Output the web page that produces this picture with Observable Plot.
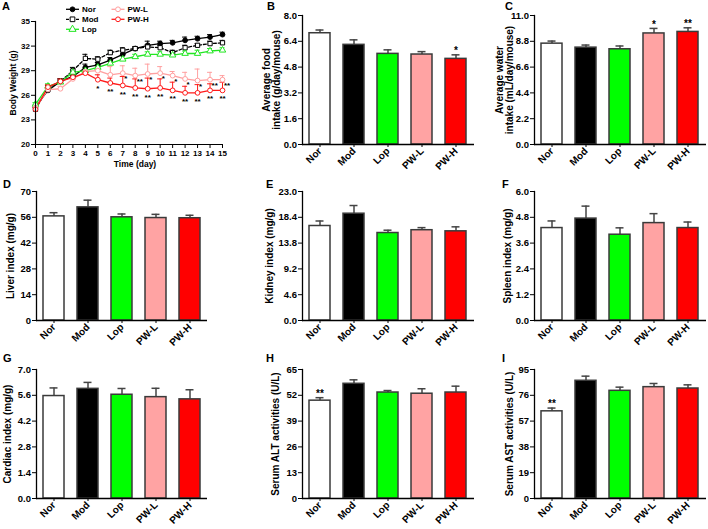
<!DOCTYPE html>
<html><head><meta charset="utf-8">
<script src="https://cdn.jsdelivr.net/npm/d3@7"></script>
<script src="https://cdn.jsdelivr.net/npm/@observablehq/plot@0.6"></script>
<style>
body{margin:0;background:#fff;}
#fig{position:relative;width:708px;height:529px;font-family:"Liberation Sans",Arial,sans-serif;font-weight:bold;}
#fig svg{position:absolute;overflow:visible;}
</style></head><body><div id="fig"></div>
<script>
// ---------- data ----------
const groups = ["Nor", "Mod", "Lop", "PW-L", "PW-H"];
const days = [0, 1, 2, 3, 4, 5, 6, 7, 8, 9, 10, 11, 12, 13, 14, 15];

const norBW = [24.6, 26.6, 27.7, 28.3, 29.4, 29.7, 30.3, 31.0, 31.7, 32.1, 32.3, 32.4, 32.7, 32.9, 33.1, 33.4];
const modBW = [24.3, 26.9, 27.7, 29.0, 30.5, 30.4, 31.2, 31.5, 31.7, 31.9, 31.8, 31.2, 31.8, 32.1, 32.3, 32.4];
const lopBW = [24.9, 27.1, 27.6, 28.8, 29.0, 29.4, 29.9, 30.4, 30.7, 31.0, 31.0, 30.9, 31.1, 31.1, 31.4, 31.5];
const pwlBW = [24.5, 26.7, 26.8, 28.0, 28.9, 29.0, 28.5, 28.7, 28.4, 28.6, 28.7, 28.4, 28.0, 27.8, 27.9, 27.9];
const pwhBW = [24.3, 27.0, 27.7, 28.2, 28.7, 27.9, 27.5, 27.2, 26.9, 26.8, 26.9, 26.6, 26.3, 26.3, 26.6, 26.6];
const norErr = [0.2, 0.3, 0.3, 0.3, 0.4, 0.3, 0.3, 0.4, 0.2, 0.5, 0.3, 0.3, 0.4, 0.3, 0.3, 0.3];
const modErr = [0.2, 0.3, 0.3, 0.4, 0.5, 0.3, 0.3, 0.3, 0.2, 0.3, 0.3, 0.3, 0.3, 0.2, 0.3, 0.3];
const lopErr = [0.2, 0.3, 0.2, 0.3, 0.3, 0.3, 0.3, 0.4, 0.3, 0.3, 0.3, 0.3, 0.3, 0.4, 0.3, 0.3];
const pwlErr = [0.2, 0.4, 0.3, 0.3, 0.3, 0.5, 1.0, 0.9, 0.9, 1.2, 0.8, 0.5, 0.8, 1.4, 0.9, 0.5];
const pwhErr = [0.2, 0.3, 0.3, 0.3, 0.3, 0.6, 0.6, 1.1, 1.1, 1.3, 1.1, 1.0, 0.8, 1.0, 0.8, 1.0];
const pwlSig = ["", "", "", "", "", "", "", "*", "**", "*", "*", "*", "*", "*", "**", "**"];
const pwhSig = ["", "", "", "", "", "*", "**", "**", "**", "**", "**", "**", "**", "**", "**", "**"];
const bwYTicks = [20, 23, 26, 29, 32, 35];

const foodMean = [6.90, 6.18, 5.62, 5.58, 5.31];
const foodErr = [0.20, 0.31, 0.25, 0.18, 0.25];
const foodSig = ["", "", "", "", "*"];
const foodTicks = [0, 1.6, 3.2, 4.8, 6.4, 8.0];

const waterMean = [8.60, 8.26, 8.12, 9.47, 9.60];
const waterErr = [0.22, 0.22, 0.28, 0.43, 0.35];
const waterSig = ["", "", "", "*", "**"];
const waterTicks = [0, 2.2, 4.4, 6.6, 8.8, 11.0];

const liverMean = [56.5, 61.4, 56.0, 55.6, 55.5];
const liverErr = [2.0, 3.9, 1.8, 2.0, 1.6];
const liverTicks = [0, 14, 28, 42, 56, 70];

const kidneyMean = [16.85, 19.04, 15.6, 16.1, 15.9];
const kidneyErr = [0.89, 1.46, 0.5, 0.46, 0.8];
const kidneyTicks = [0, 4.6, 9.2, 13.8, 18.4, 23.0];

const spleenMean = [4.30, 4.74, 3.99, 4.53, 4.30];
const spleenErr = [0.33, 0.58, 0.32, 0.44, 0.28];
const spleenTicks = [0, 1.2, 2.4, 3.6, 4.8, 6.0];

const cardiacMean = [5.56, 5.95, 5.63, 5.50, 5.38];
const cardiacErr = [0.44, 0.35, 0.34, 0.48, 0.52];
const cardiacTicks = [0, 1.4, 2.8, 4.2, 5.6, 7.0];

const altMean = [49.3, 57.8, 53.4, 52.8, 53.4];
const altErr = [1.5, 2.0, 1.0, 2.5, 3.2];
const altSig = ["**", "", "", "", ""];
const altTicks = [0, 13, 26, 39, 52, 65];

const astMean = [64.2, 86.7, 79.3, 82.0, 81.0];
const astErr = [2.4, 3.4, 2.7, 2.7, 2.7];
const astSig = ["**", "", "", "", ""];
const astTicks = [0, 19, 38, 57, 76, 95];

// ---------- styles ----------
const barFill = ["#ffffff", "#000000", "#00ff00", "#ffa3a3", "#ff0000"];
const lineColor = ["#000000", "#000000", "#22e622", "#ffa0a0", "#ff1a1a"];
const symbols = ["circle", "square", "triangle", "circle", "circle"];
const symFill = ["#000000", "#ffffff", "#ffffff", "#ffffff", "#ffffff"];
const dashes = [null, "3,2", null, null, null];
const FONT = '"Liberation Sans", Arial, sans-serif';
const fig = document.getElementById("fig");

function place(svg, left, top) {
  svg.style.left = left + "px";
  svg.style.top = top + "px";
  fig.appendChild(svg);
}

// ---------- panel A ----------
const bwMeans = [norBW, modBW, lopBW, pwlBW, pwhBW];
const bwErrs = [norErr, modErr, lopErr, pwlErr, pwhErr];
const bwData = groups.flatMap((g, gi) => days.map((d, i) => ({
  g, day: d, v: bwMeans[gi][i], hi: bwMeans[gi][i] + bwErrs[gi][i],
  s: gi === 3 ? pwlSig[i] : gi === 4 ? pwhSig[i] : ""
})));

const aMarks = [];
groups.forEach((g, gi) => {
  const sub = bwData.filter(d => d.g === g);
  aMarks.push(Plot.ruleX(sub, {x: "day", y1: "v", y2: "hi", stroke: lineColor[gi], strokeWidth: 1}));
  aMarks.push(Plot.ruleY(sub, {x1: "day", x2: "day", y: "hi", stroke: lineColor[gi], strokeWidth: 1, insetLeft: -2.5, insetRight: -2.5}));
});
groups.forEach((g, gi) => {
  const sub = bwData.filter(d => d.g === g);
  aMarks.push(Plot.line(sub, {x: "day", y: "v", stroke: lineColor[gi], strokeWidth: 1.3, strokeDasharray: dashes[gi]}));
});
groups.forEach((g, gi) => {
  const sub = bwData.filter(d => d.g === g);
  aMarks.push(Plot.dot(sub, {x: "day", y: "v", symbol: () => symbols[gi], r: 2.4, fill: symFill[gi], stroke: lineColor[gi], strokeWidth: 1}));
});
aMarks.push(Plot.text(bwData.filter(d => d.g === "PW-L" && d.s), {x: "day", y: "v", text: "s", textAnchor: "start", dx: 1.5, dy: 5.5, fontSize: 8}));
aMarks.push(Plot.text(bwData.filter(d => d.g === "PW-H" && d.s), {x: "day", y: "v", text: "s", dy: 8.5, fontSize: 8}));
aMarks.push(Plot.frame({anchor: "left", strokeWidth: 1.2}));
aMarks.push(Plot.ruleY([bwYTicks[0]], {strokeWidth: 1.2}));
aMarks.push(Plot.axisY({ticks: bwYTicks, tickSize: 4, tickPadding: 1.5, label: null}));
aMarks.push(Plot.axisX({ticks: days, tickSize: 4, tickPadding: 1.5, label: null}));
aMarks.push(Plot.text(["Body Weight (g)"], {frameAnchor: "left", textAnchor: "middle", lineAnchor: "middle", rotate: -90, dx: -22, fontSize: 8.5}));
aMarks.push(Plot.text(["Time (day)"], {frameAnchor: "bottom", textAnchor: "middle", lineAnchor: "middle", dx: 6, dy: 19.5, fontSize: 8.5}));

const plotA = Plot.plot({
  width: 236, height: 172, marginLeft: 35, marginRight: 14, marginTop: 21, marginBottom: 28,
  style: {fontFamily: FONT, fontWeight: "bold", fontSize: "8px", color: "#000", background: "transparent", overflow: "visible"},
  x: {domain: [0, 15], label: null},
  y: {domain: [20, 35], label: null},
  marks: aMarks
});
place(plotA, 0, 0);

// ---------- bar panels ----------
function barPanel(o) {
  const data = groups.map((g, i) => ({g, v: o.mean[i], hi: o.mean[i] + o.err[i], s: o.sig ? o.sig[i] : ""}));
  const p = Plot.plot({
    width: o.width, height: 180, marginLeft: o.ml, marginRight: o.mr, marginTop: 15, marginBottom: 36,
    style: {fontFamily: FONT, fontWeight: "bold", fontSize: "10px", color: "#000", background: "transparent", overflow: "visible"},
    x: {domain: groups, paddingInner: 0.37, paddingOuter: 0.185, label: null},
    y: {domain: [o.ticks[0], o.ticks[o.ticks.length - 1]], label: null},
    color: {domain: groups, range: barFill},
    marks: [
      Plot.ruleX(data, {x: "g", y1: "v", y2: "hi", stroke: "#444", strokeWidth: 1.5}),
      Plot.tickY(data, {x: "g", y: "hi", stroke: "#444", strokeWidth: 1.5, insetLeft: 6.5, insetRight: 6.5}),
      Plot.barY(data, {x: "g", y: "v", fill: "g", stroke: "#3a3a3a", strokeWidth: 1.5}),
      Plot.text(data, {x: "g", y: "hi", text: "s", dy: -4, fontSize: 10}),
      Plot.frame({anchor: "left", strokeWidth: 1.3}),
      Plot.ruleY([o.ticks[0]], {strokeWidth: 1.3}),
      Plot.axisY({ticks: o.ticks, tickFormat: o.fmt, tickSize: 4, tickPadding: 1.5, label: null, fontSize: 9.5}),
      Plot.axisX({tickRotate: -45, tickSize: 3, tickPadding: 2, label: null, fontSize: 10}),
      Plot.text([o.label], {frameAnchor: "left", textAnchor: "middle", lineAnchor: "middle", rotate: -90, dx: o.ldx, fontSize: 10, lineHeight: 1.05})
    ]
  });
  place(p, o.left, o.top);
}
const f1 = d3.format(".1f"), f0 = d3.format("d");
const col = [
  {left: 0, width: 236, ml: 36, mr: 29},
  {left: 236, width: 240, ml: 66, mr: 2},
  {left: 472, width: 236, ml: 62, mr: 2}
];
const rowTop = [0, 176, 354];

barPanel({...col[1], top: rowTop[0], mean: foodMean, err: foodErr, sig: foodSig, ticks: foodTicks, fmt: f1, label: "Average food\nintake (g/day/mouse)", ldx: -31});
barPanel({...col[2], top: rowTop[0], mean: waterMean, err: waterErr, sig: waterSig, ticks: waterTicks, fmt: f1, label: "Average water\nintake (mL/day/mouse)", ldx: -30});
barPanel({...col[0], top: rowTop[1], mean: liverMean, err: liverErr, ticks: liverTicks, fmt: f0, label: "Liver index (mg/g)", ldx: -26});
barPanel({...col[1], top: rowTop[1], mean: kidneyMean, err: kidneyErr, ticks: kidneyTicks, fmt: f1, label: "Kidney index (mg/g)", ldx: -32.5});
barPanel({...col[2], top: rowTop[1], mean: spleenMean, err: spleenErr, ticks: spleenTicks, fmt: f1, label: "Spleen index (mg/g)", ldx: -27});
barPanel({...col[0], top: rowTop[2], mean: cardiacMean, err: cardiacErr, ticks: cardiacTicks, fmt: f1, label: "Cardiac index (mg/g)", ldx: -28.5});
barPanel({...col[1], top: rowTop[2], mean: altMean, err: altErr, sig: altSig, ticks: altTicks, fmt: f0, label: "Serum ALT activities (U/L)", ldx: -26.5});
barPanel({...col[2], top: rowTop[2], mean: astMean, err: astErr, sig: astSig, ticks: astTicks, fmt: f0, label: "Serum AST activities (U/L)", ldx: -25});

// ---------- overlay: panel letters + legend of A ----------
const ov = d3.select(fig).append("svg").attr("width", 708).attr("height", 529)
  .style("left", "0px").style("top", "0px").style("pointer-events", "none")
  .attr("font-family", FONT).attr("font-weight", "bold");
const letters = [["A", 2, 9.5], ["B", 267, 9.5], ["C", 505, 9.5], ["D", 3, 188], ["E", 266, 188], ["F", 502, 188], ["G", 3, 362], ["H", 266, 362], ["I", 502, 362]];
ov.selectAll("text.l").data(letters).join("text").attr("class", "l")
  .attr("x", d => d[1]).attr("y", d => d[2]).attr("font-size", 11).text(d => d[0]);

const legPos = [[66, 9.3], [66, 19.3], [66, 29.3], [111.5, 9.3], [111.5, 19.3]];
groups.forEach((g, gi) => {
  const [x, y] = legPos[gi];
  const gg = ov.append("g").attr("transform", `translate(${x},${y})`);
  gg.append("line").attr("x1", 0).attr("x2", 13).attr("y1", 0).attr("y2", 0)
    .attr("stroke", lineColor[gi]).attr("stroke-width", 1.3).attr("stroke-dasharray", dashes[gi]);
  const sym = d3.symbol().type(symbols[gi] === "circle" ? d3.symbolCircle : symbols[gi] === "square" ? d3.symbolSquare : d3.symbolTriangle).size(symbols[gi] === "circle" ? 18 : 22);
  gg.append("path").attr("d", sym()).attr("transform", "translate(6.5,0)")
    .attr("fill", symFill[gi]).attr("stroke", lineColor[gi]).attr("stroke-width", 1);
  gg.append("text").attr("x", 16).attr("y", 3).attr("font-size", 8).text(g);
});
</script></body></html>
